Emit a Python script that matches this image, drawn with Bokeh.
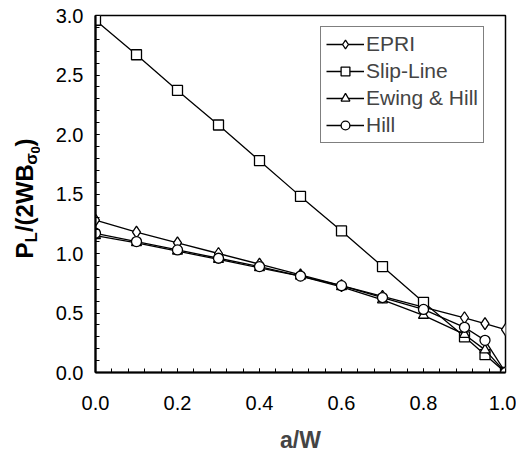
import math
from bokeh.plotting import figure
from bokeh.layouts import row
from bokeh.models import Range1d, SingleIntervalTicker, Legend, LegendItem, NumeralTickFormatter, ColumnDataSource
from bokeh.core.properties import value
from bokeh.embed import file_html
from bokeh.resources import INLINE

aw = [0.0, 0.1, 0.2, 0.3, 0.4, 0.5, 0.6, 0.7, 0.8, 0.9, 0.95, 1.0]
epri = [1.28, 1.18, 1.09, 1.00, 0.91, 0.82, 0.73, 0.64, 0.55, 0.46, 0.41, 0.36]
slip_line = [2.96, 2.67, 2.37, 2.08, 1.78, 1.48, 1.19, 0.89, 0.59, 0.30, 0.15, 0.0]
ewing_hill = [1.15, 1.09, 1.02, 0.95, 0.88, 0.81, 0.72, 0.61, 0.48, 0.32, 0.19, 0.0]
hill = [1.17, 1.10, 1.03, 0.96, 0.89, 0.81, 0.73, 0.63, 0.53, 0.38, 0.27, 0.0]

series = [
    ("EPRI", epri, "diamond", 12),
    ("Slip-Line", slip_line, "square", 10),
    ("Ewing & Hill", ewing_hill, "triangle", 10),
    ("Hill", hill, "circle", 10),
]

FONT = "Liberation Sans"

W, H = 516, 456
LW = 40                                  # width of the strip holding the y label
FL, FT, FR, FB = 95, 15, 505, 372        # frame edges in page pixels

p = figure(width=W - LW, height=H, output_backend="svg", toolbar_location=None,
           x_range=Range1d(0, 1), y_range=Range1d(0, 3),
           min_border_left=FL - LW, min_border_right=W - FR, min_border_top=FT,
           min_border_bottom=H - FB)
p.xgrid.visible = False
p.ygrid.visible = False
p.outline_line_color = "black"
p.outline_line_width = 1.5
p.background_fill_color = "white"

p.xaxis.ticker = SingleIntervalTicker(interval=0.2, num_minor_ticks=5)
p.yaxis.ticker = SingleIntervalTicker(interval=0.5, num_minor_ticks=5)
p.xaxis.formatter = NumeralTickFormatter(format="0.0")
p.yaxis.formatter = NumeralTickFormatter(format="0.0")
for ax in (p.xaxis, p.yaxis):
    ax.axis_line_width = 2.2
    ax.axis_line_color = "black"
    ax.major_tick_in = 4
    ax.major_tick_out = 0
    ax.minor_tick_in = 4
    ax.minor_tick_out = 0
    ax.major_tick_line_color = "black"
    ax.minor_tick_line_color = "black"
    ax.major_label_text_font = FONT
    ax.major_label_text_font_size = "20px"
    ax.major_label_text_color = "black"
p.xaxis.major_label_standoff = 23
p.yaxis.major_label_standoff = 12
p.xaxis.axis_label = "a/W"
p.xaxis.axis_label_text_font = FONT
p.xaxis.axis_label_text_font_size = "23px"
p.xaxis.axis_label_text_font_style = "bold"
p.xaxis.axis_label_standoff = 14

items = []
for name, ys, marker, size in series:
    r1 = p.line(aw, ys, line_color="black", line_width=1.3)
    r2 = p.scatter(aw, ys, marker=marker, size=size, fill_color="white",
                   line_color="black", line_width=1.3)
    items.append(LegendItem(label=name, renderers=[r1, r2]))

legend = Legend(items=items, location=(225, 229))
legend.label_text_font = FONT
legend.label_text_font_size = "21px"
legend.border_line_color = "black"
legend.border_line_width = 1
legend.padding = 5
legend.margin = 0
legend.spacing = 3
legend.label_height = 22
legend.glyph_height = 22
legend.glyph_width = 38
legend.label_standoff = 2
p.add_layout(legend, "center")

# Strip on the left for the y axis label (with subscripts).
# Its frame is aligned with the main frame (page y FT..FB), so data = H - page_y.
q = figure(width=LW, height=H, output_backend="svg", toolbar_location=None,
           x_range=Range1d(0, LW), y_range=Range1d(H - FB, H - FT),
           x_axis_type=None, y_axis_type=None, min_border=0,
           min_border_left=0, min_border_right=0, min_border_top=FT,
           min_border_bottom=H - FB)
q.xgrid.visible = False
q.ygrid.visible = False
q.outline_line_color = None
q.background_fill_color = "white"

label_pieces = ["P", "L", "/(2WB", "\u03c3", "0", ")"]
F, S, SS = 24, 17, 13
piece_size = [F, S, F, S, SS, F]
piece_em = [0.667, 0.611, 2.833, 0.618, 0.556, 0.333]
piece_shift = [0, 4, 0, 4, 7, 0]

xs, ys, sizes = [], [], []
ystart = H - 258   # label starts at page y 258, runs upward
xbase = 33         # baseline at page x 33
for fs, w, sh in zip(piece_size, piece_em, piece_shift):
    xs.append(xbase + sh - 0.36 * fs)       # centre of the glyphs
    ys.append(ystart + w * fs / 2)
    sizes.append(f"{fs}px")
    ystart += w * fs

src = ColumnDataSource(dict(x=xs, y=ys, text=label_pieces, size=sizes))
q.text(x="x", y="y", text="text", source=src, angle=math.pi / 2,
       text_font=value(FONT), text_font_size="size", text_font_style="bold",
       text_align="center", text_baseline="middle", text_color="black")

layout = row(q, p, spacing=0)
open("out.html", "w").write(file_html(layout, INLINE))
